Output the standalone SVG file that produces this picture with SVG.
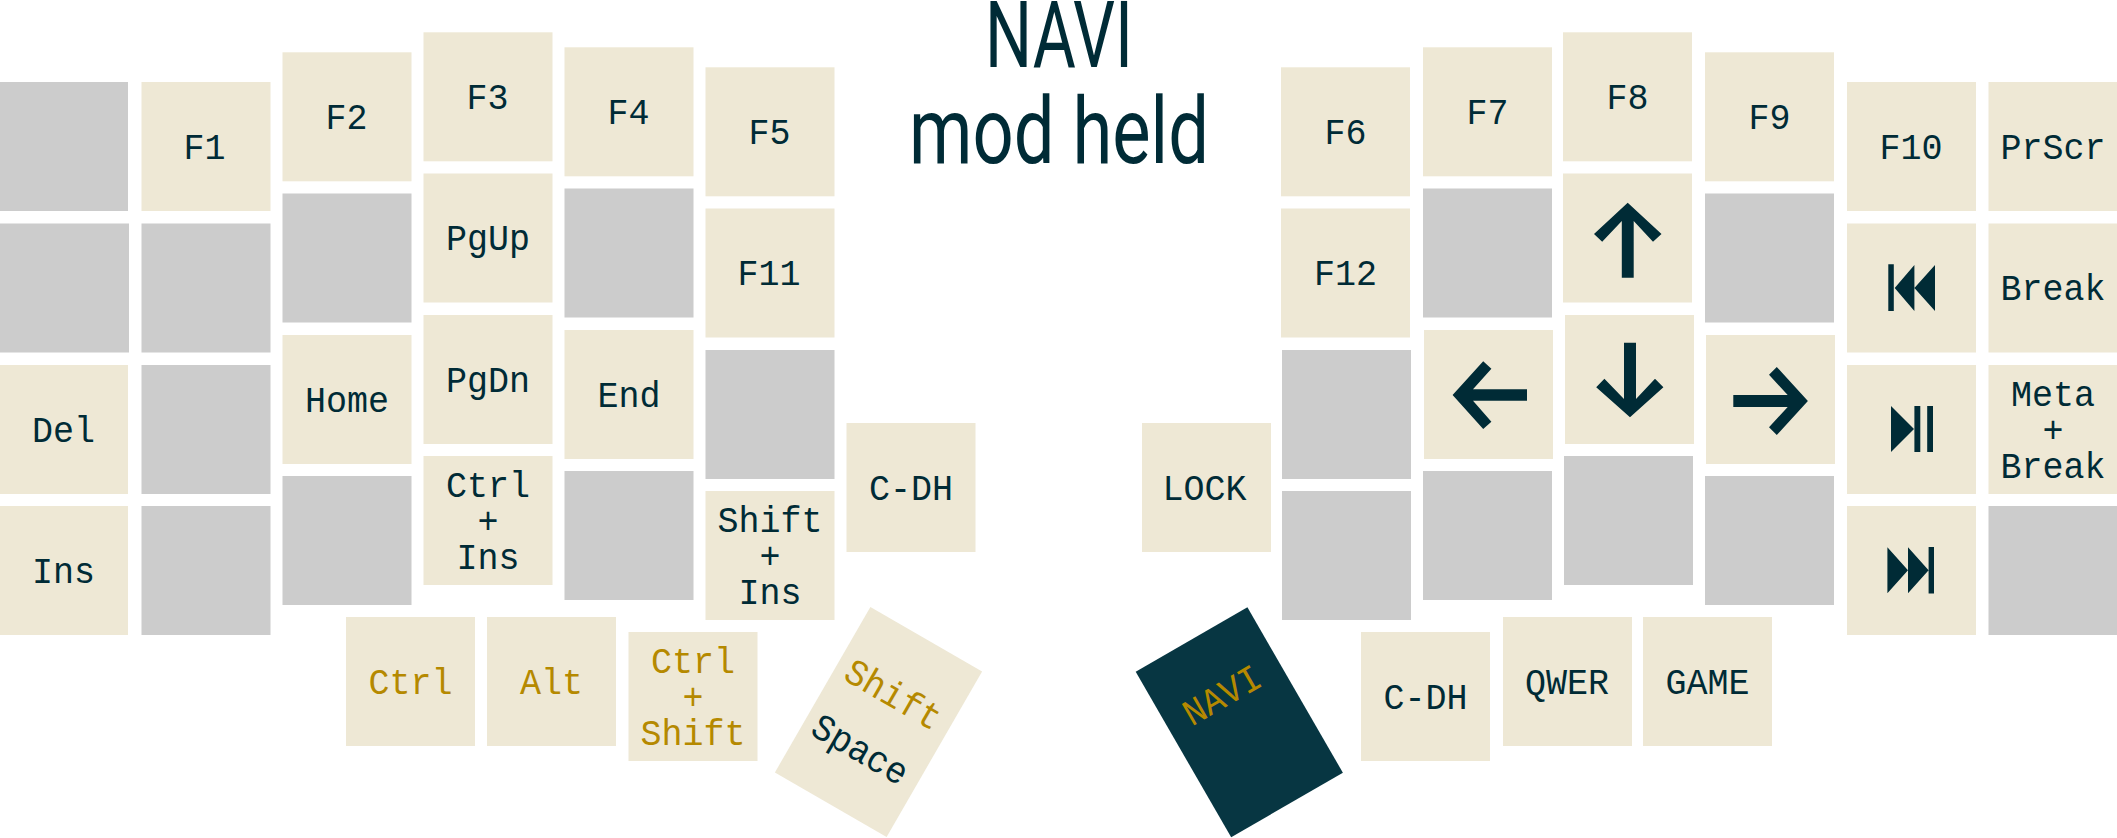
<svg xmlns="http://www.w3.org/2000/svg" width="2117" height="838" viewBox="0 0 2117 838">
<style>
.k{fill:#eee8d5}.g{fill:#cccccc}.d{fill:#073642}
text{font-family:"Liberation Mono","DejaVu Sans Mono",monospace;font-size:37.5px;fill:#002b36;text-anchor:middle}
.h{fill:#b58900}
.t{font-family:Roboto,"Liberation Sans",sans-serif;font-size:92px;font-weight:400;fill:#002b36}
.i{fill:#002b36}
</style>
<g id="title"><text class="t" x="1059" y="67" textLength="148" lengthAdjust="spacingAndGlyphs">NAVI</text><text class="t" x="1059" y="163" textLength="300" lengthAdjust="spacingAndGlyphs">mod held</text></g>
<g id="connectors"></g>
<g id="L00"><rect class="g" x="-1" y="82" width="129" height="129"/></g>
<g id="L01"><rect class="g" x="0" y="223.5" width="129" height="129"/></g>
<g id="L02"><rect class="k" x="-1" y="365" width="129" height="129"/><text x="63.5" y="441.5" textLength="63" lengthAdjust="spacingAndGlyphs">Del</text></g>
<g id="L03"><rect class="k" x="-1" y="506" width="129" height="129"/><text x="63.5" y="582.5" textLength="63" lengthAdjust="spacingAndGlyphs">Ins</text></g>
<g id="L10"><rect class="k" x="141.500" y="82" width="129" height="129"/><text x="204.500" y="158.500" textLength="42" lengthAdjust="spacingAndGlyphs">F1</text></g>
<g id="L11"><rect class="g" x="141.500" y="223.5" width="129" height="129"/></g>
<g id="L12"><rect class="g" x="141.500" y="365" width="129" height="129"/></g>
<g id="L13"><rect class="g" x="141.500" y="506" width="129" height="129"/></g>
<g id="L20"><rect class="k" x="282.500" y="52.300" width="129" height="129"/><text x="346.500" y="129" textLength="42" lengthAdjust="spacingAndGlyphs">F2</text></g>
<g id="L21"><rect class="g" x="282.500" y="193.500" width="129" height="129"/></g>
<g id="L22"><rect class="k" x="282.500" y="335" width="129" height="129"/><text x="347" y="411.500" textLength="84" lengthAdjust="spacingAndGlyphs">Home</text></g>
<g id="L23"><rect class="g" x="282.500" y="476" width="129" height="129"/></g>
<g id="L30"><rect class="k" x="423.500" y="32.300" width="129" height="129"/><text x="487.500" y="109" textLength="42" lengthAdjust="spacingAndGlyphs">F3</text></g>
<g id="L31"><rect class="k" x="423.500" y="173.500" width="129" height="129"/><text x="488" y="250" textLength="84" lengthAdjust="spacingAndGlyphs">PgUp</text></g>
<g id="L32"><rect class="k" x="423.500" y="315" width="129" height="129"/><text x="488" y="391.500" textLength="84" lengthAdjust="spacingAndGlyphs">PgDn</text></g>
<g id="L33"><rect class="k" x="423.500" y="456" width="129" height="129"/><text x="488" y="496.500" textLength="84" lengthAdjust="spacingAndGlyphs">Ctrl</text><text x="488" y="532.500" textLength="21" lengthAdjust="spacingAndGlyphs">+</text><text x="488" y="568.500" textLength="63" lengthAdjust="spacingAndGlyphs">Ins</text></g>
<g id="L40"><rect class="k" x="564.500" y="47.300" width="129" height="129"/><text x="628.500" y="124" textLength="42" lengthAdjust="spacingAndGlyphs">F4</text></g>
<g id="L41"><rect class="g" x="564.500" y="188.500" width="129" height="129"/></g>
<g id="L42"><rect class="k" x="564.500" y="330" width="129" height="129"/><text x="629" y="406.500" textLength="63" lengthAdjust="spacingAndGlyphs">End</text></g>
<g id="L43"><rect class="g" x="564.500" y="471" width="129" height="129"/></g>
<g id="L50"><rect class="k" x="705.500" y="67.300" width="129" height="129"/><text x="769.500" y="144" textLength="42" lengthAdjust="spacingAndGlyphs">F5</text></g>
<g id="L51"><rect class="k" x="705.500" y="208.500" width="129" height="129"/><text x="769" y="285" textLength="63" lengthAdjust="spacingAndGlyphs">F11</text></g>
<g id="L52"><rect class="g" x="705.500" y="350" width="129" height="129"/></g>
<g id="L53"><rect class="k" x="705.500" y="491" width="129" height="129"/><text x="770" y="531.500" textLength="105" lengthAdjust="spacingAndGlyphs">Shift</text><text x="770" y="567.500" textLength="21" lengthAdjust="spacingAndGlyphs">+</text><text x="770" y="603.500" textLength="63" lengthAdjust="spacingAndGlyphs">Ins</text></g>
<g id="LT0"><rect class="k" x="846.500" y="423" width="129" height="129"/><text x="911" y="499.500" textLength="84" lengthAdjust="spacingAndGlyphs">C-DH</text></g>
<g id="LT1"><rect class="k" x="346" y="617" width="129" height="129"/><text class="h" x="410.500" y="693.500" textLength="84" lengthAdjust="spacingAndGlyphs">Ctrl</text></g>
<g id="LT2"><rect class="k" x="487" y="617" width="129" height="129"/><text class="h" x="551.500" y="693.500" textLength="63" lengthAdjust="spacingAndGlyphs">Alt</text></g>
<g id="LT3"><rect class="k" x="628.500" y="632" width="129" height="129"/><text class="h" x="693" y="672.500" textLength="84" lengthAdjust="spacingAndGlyphs">Ctrl</text><text class="h" x="693" y="708.500" textLength="21" lengthAdjust="spacingAndGlyphs">+</text><text class="h" x="693" y="744.500" textLength="105" lengthAdjust="spacingAndGlyphs">Shift</text></g>
<g id="LT4" transform="translate(878.500 722) rotate(30)"><rect class="k" x="-64.500" y="-95.500" width="129" height="191"/><text class="h" x="-1" y="-19" textLength="105" lengthAdjust="spacingAndGlyphs">Shift</text><text x="-2" y="45" textLength="105" lengthAdjust="spacingAndGlyphs">Space</text></g>
<g id="R00"><rect class="k" x="1281" y="67.300" width="129" height="129"/><text x="1345.500" y="144" textLength="42" lengthAdjust="spacingAndGlyphs">F6</text></g>
<g id="R01"><rect class="k" x="1281" y="208.500" width="129" height="129"/><text x="1345.500" y="285" textLength="63" lengthAdjust="spacingAndGlyphs">F12</text></g>
<g id="R02"><rect class="g" x="1282" y="350" width="129" height="129"/></g>
<g id="R03"><rect class="g" x="1282" y="491" width="129" height="129"/></g>
<g id="R10"><rect class="k" x="1423" y="47.300" width="129" height="129"/><text x="1487.500" y="124" textLength="42" lengthAdjust="spacingAndGlyphs">F7</text></g>
<g id="R11"><rect class="g" x="1423" y="188.500" width="129" height="129"/></g>
<g id="R12"><rect class="k" x="1424" y="330" width="129" height="129"/><path class="i" d="M1452.600 395L1483.200 361.300L1491.400 368.700L1473 389.300H1527V400.700H1473L1491.400 421.700L1483.200 429Z"/></g>
<g id="R13"><rect class="g" x="1423" y="471" width="129" height="129"/></g>
<g id="R20"><rect class="k" x="1563" y="32.300" width="129" height="129"/><text x="1627.500" y="109" textLength="42" lengthAdjust="spacingAndGlyphs">F8</text></g>
<g id="R21"><rect class="k" x="1563" y="173.500" width="129" height="129"/><path class="i" d="M1627.700 202.700L1661.500 234L1653 241.700L1633.700 221V277.700H1621.800V221L1602.200 241.700L1594 234Z"/></g>
<g id="R22"><rect class="k" x="1565" y="315" width="129" height="129"/><path class="i" d="M1630 417.300L1663.400 387.300L1655 378.700L1636 399V342.700H1624V399L1604.400 378.700L1596.200 387.300Z"/></g>
<g id="R23"><rect class="g" x="1564" y="456" width="129" height="129"/></g>
<g id="R30"><rect class="k" x="1705" y="52.300" width="129" height="129"/><text x="1769.500" y="129" textLength="42" lengthAdjust="spacingAndGlyphs">F9</text></g>
<g id="R31"><rect class="g" x="1705" y="193.500" width="129" height="129"/></g>
<g id="R32"><rect class="k" x="1706" y="335" width="129" height="129"/><path class="i" d="M1807.900 401L1776.800 367L1769 374.700L1787.700 395H1733.300V407H1787.700L1769 427.300L1776.800 435Z"/></g>
<g id="R33"><rect class="g" x="1705" y="476" width="129" height="129"/></g>
<g id="R40"><rect class="k" x="1847" y="82" width="129" height="129"/><text x="1911" y="158.500" textLength="63" lengthAdjust="spacingAndGlyphs">F10</text></g>
<g id="R41"><rect class="k" x="1847" y="223.500" width="129" height="129"/><path class="i" d="M1888.300 264.300H1893.800V311H1888.300ZM1894.700 288L1914.400 265V288L1935 265V311L1914.400 288V311Z"/></g>
<g id="R42"><rect class="k" x="1847" y="365" width="129" height="129"/><path class="i" d="M1891 406L1914 429L1891 452ZM1914.400 406H1920.300V452H1914.400ZM1927.200 406H1933V452H1927.200Z"/></g>
<g id="R43"><rect class="k" x="1847" y="506" width="129" height="129"/><path class="i" d="M1887.400 547.300L1908 570.300V547.300L1928.600 570.300V547H1934V593.500H1928.600V570.300L1908 593.300V570.300L1887.400 593.300Z"/></g>
<g id="R50"><rect class="k" x="1988.500" y="82" width="129" height="129"/><text x="2053" y="158.500" textLength="105" lengthAdjust="spacingAndGlyphs">PrScr</text></g>
<g id="R51"><rect class="k" x="1988.500" y="223.500" width="129" height="129"/><text x="2053" y="300" textLength="105" lengthAdjust="spacingAndGlyphs">Break</text></g>
<g id="R52"><rect class="k" x="1988.500" y="365" width="129" height="129"/><text x="2053" y="405.500" textLength="84" lengthAdjust="spacingAndGlyphs">Meta</text><text x="2053" y="441.500" textLength="21" lengthAdjust="spacingAndGlyphs">+</text><text x="2053" y="477.500" textLength="105" lengthAdjust="spacingAndGlyphs">Break</text></g>
<g id="R53"><rect class="g" x="1988.500" y="506" width="129" height="129"/></g>
<g id="RT0"><rect class="k" x="1142" y="423" width="129" height="129"/><text x="1204.500" y="499.500" textLength="84" lengthAdjust="spacingAndGlyphs">LOCK</text></g>
<g id="RT1"><rect class="k" x="1361" y="632" width="129" height="129"/><text x="1425.500" y="708.500" textLength="84" lengthAdjust="spacingAndGlyphs">C-DH</text></g>
<g id="RT2"><rect class="k" x="1503" y="617" width="129" height="129"/><text x="1567" y="693.500" textLength="84" lengthAdjust="spacingAndGlyphs">QWER</text></g>
<g id="RT3"><rect class="k" x="1643" y="617" width="129" height="129"/><text x="1707.500" y="693.500" textLength="84" lengthAdjust="spacingAndGlyphs">GAME</text></g>
<g id="RT4" transform="translate(1239.300 722.300) rotate(-30)"><rect class="d" x="-64.500" y="-95.500" width="129" height="191"/><text class="h" x="-1.500" y="-20" textLength="84" lengthAdjust="spacingAndGlyphs">NAVI</text></g>
</svg>
